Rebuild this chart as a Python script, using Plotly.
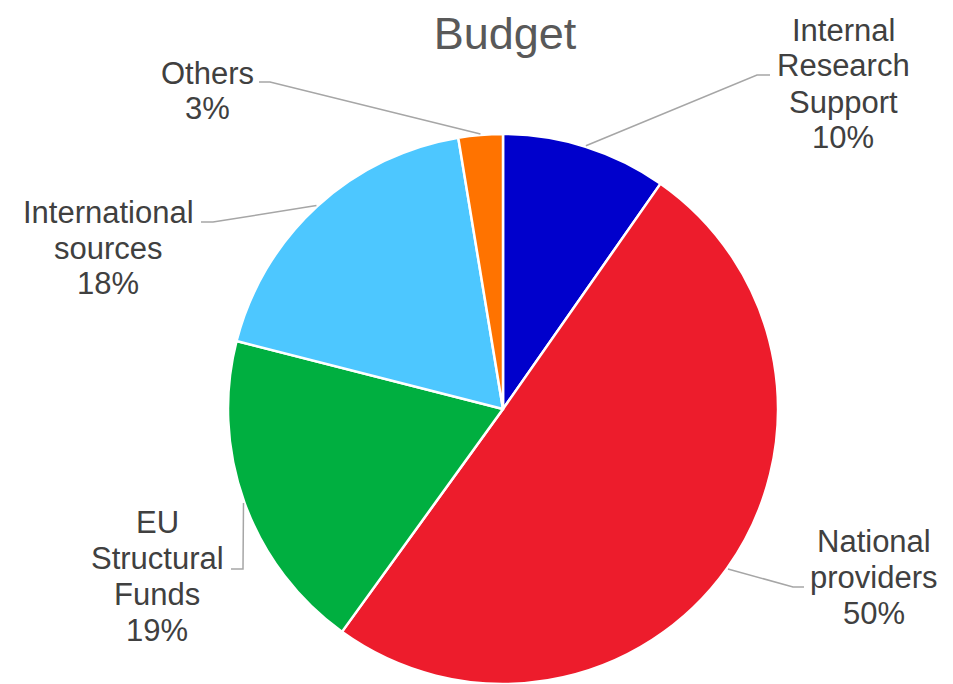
import math
import plotly.graph_objects as go

# Data
categories = ["Internal Research Support", "National providers", "EU Structural Funds",
              "International sources", "Others"]
label_lines = [["Internal", "Research", "Support"], ["National", "providers"],
               ["EU", "Structural", "Funds"], ["International", "sources"], ["Others"]]
values = [9.7, 50.2, 19.0, 18.4, 2.6]
colors = ["#0000CC", "#ED1C2C", "#00AF40", "#4DC7FF", "#FF7300"]

W, H = 953, 684
OFF = 8  # page body margin
CX, CY, R = 503, 409, 275

# label layout (pixel): centre x, first line y, elbow point, end point
label_pos = [
    (843, 30, (757, 75), (770, 75)),
    (874, 541, (793, 587), (804, 587)),
    (157, 522, (243, 569), (231, 569)),
    (108, 212, (213, 222), (201, 222)),
    (207, 73, (270, 82), (259, 82)),
]

def px(x):
    return (x - OFF) / W

def py(y):
    return 1 - (y - OFF) / H

fig = go.Figure(go.Pie(
    labels=categories, values=values, sort=False, direction="clockwise", rotation=0,
    marker=dict(colors=colors, line=dict(color="white", width=2.5)),
    textinfo="none", hoverinfo="label+percent", showlegend=False,
    domain=dict(x=[px(CX - R), px(CX + R)], y=[py(CY + R), py(CY - R)]),
))

total = sum(values)
annotations = []
shapes = []
cum = 0.0
for i, v in enumerate(values):
    mid = (cum + v / 2) / total * 2 * math.pi
    cum += v
    sx = CX + (R + 1) * math.sin(mid)
    sy = CY - (R + 1) * math.cos(mid)
    cxl, y0, (ex, ey), (fx, fy) = label_pos[i]
    lines = label_lines[i] + [f"{round(v / total * 100)}%"]
    for k, t in enumerate(lines):
        annotations.append(dict(
            x=px(cxl), y=py(y0 + 36 * k), xref="paper", yref="paper",
            text=t, showarrow=False, xanchor="center", yanchor="middle",
            font=dict(family="Liberation Sans, Arial", size=31, color="#404040"),
        ))
    shapes.append(dict(
        type="path", xref="paper", yref="paper",
        path=f"M {px(sx)},{py(sy)} L {px(ex)},{py(ey)} L {px(fx)},{py(fy)}",
        line=dict(color="#A6A6A6", width=1.5),
    ))

fig.update_layout(
    width=W, height=H,
    margin=dict(l=0, r=0, t=0, b=0),
    paper_bgcolor="white", plot_bgcolor="white",
    title=dict(text="Budget", x=px(505), y=py(33), xanchor="center", yanchor="middle",
               font=dict(family="Liberation Sans, Arial", size=45, color="#595959")),
    annotations=annotations, shapes=shapes,
)

fig.write_html("out.html")
